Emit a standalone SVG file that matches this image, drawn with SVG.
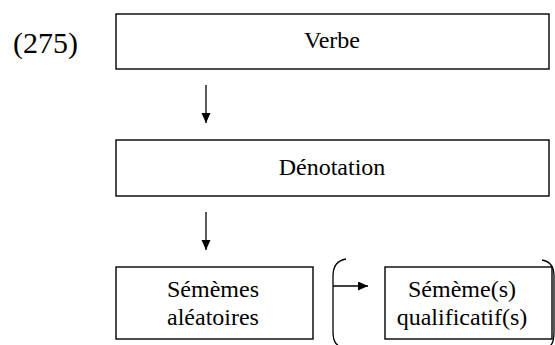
<svg xmlns="http://www.w3.org/2000/svg" width="555" height="345" viewBox="0 0 555 345">
<defs>
<marker id="ah" markerWidth="10" markerHeight="11" refX="10" refY="4.5" orient="auto" markerUnits="userSpaceOnUse">
<path d="M0,0 L10,4.5 L0,9 Z" fill="#000"/>
</marker>
<style>
.box{fill:#fff;stroke:#000;stroke-width:1.4}
.t{font-family:"Liberation Serif","Times New Roman",serif;font-size:24px;fill:#000;text-anchor:middle}
.c{stroke:#000;stroke-width:1.3;fill:none}
</style>
</defs>
<rect width="555" height="345" fill="#fff"/>
<text x="13" y="53" font-family="Liberation Serif, serif" font-size="30" fill="#000">(275)</text>
<g id="verbe">
<rect class="box" x="116" y="14" width="433" height="55"/>
<text class="t" x="332" y="48">Verbe</text>
</g>
<g id="denotation">
<rect class="box" x="116" y="140" width="433" height="56"/>
<text class="t" x="332" y="175">Dénotation</text>
</g>
<g id="sememes-aleatoires">
<rect class="box" x="116" y="267" width="197" height="72"/>
<text class="t" x="213" y="297">Sémèmes</text>
<text class="t" x="213" y="325">aléatoires</text>
</g>
<g id="sememes-qualificatifs">
<rect class="box" x="385" y="267" width="167" height="72"/>
<text class="t" x="462" y="297">Sémème(s)</text>
<text class="t" x="462" y="325">qualificatif(s)</text>
</g>
<g id="connectors">
<line class="c" x1="206" y1="85" x2="206" y2="123" marker-end="url(#ah)"/>
<line class="c" x1="206" y1="212" x2="206" y2="250" marker-end="url(#ah)"/>
<path class="c" d="M346,259 Q333,261 333,276 L333,332 Q333,343 339,346"/>
<line class="c" x1="333" y1="286" x2="368" y2="286" marker-end="url(#ah)"/>
<path class="c" d="M542,260 Q554,262 554,276 L554,332 Q554,343 550,346"/>
</g>
</svg>
